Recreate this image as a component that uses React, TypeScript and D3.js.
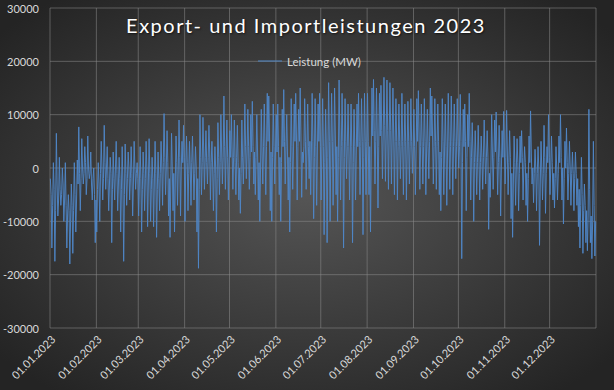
import * as d3 from "d3";

const title = "Export- und Importleistungen 2023";
const seriesName = "Leistung (MW)";
const yTicks = [30000, 20000, 10000, 0, -10000, -20000, -30000];
const monthStarts = d3.range(13).map((m) => new Date(2023, m, 1));
const tickFmt = d3.timeFormat("%d.%m.%Y");

// morning reading per day (the spikes), in 1000 MW
const jan = [-2, -15, 1, -17.5, 6.5, -9, 2, -7, 0, -10, 1, -15, -5, -18, -3, -16, 1, -12, 1.5, 7.7, -8, 5.5, -3, 4, -5, 6, -2, 3, -6, 0, -14];
const feb = [-12, 1, -10, 5, -6, 8, -4, 4, -8, 2, -14, 3, -6, 5, -8, 2, -12, 4, -17.5, 4.5, -7, 3, -6, 4, -9, 5, -4, 1];
const mar = [-9, 4, -12, 3, -8, 5, -11, 5.5, -10, 2, -11, 5, -13, 3, -8, 5, -7, 10.2, -5, 7, -9, -13, 6.5, -8, -12, 6, -7, 9, -9, 5, 8];
const apr = [-10, 6, -8, 5, -7, 6, -6, 4, -12, -18.8, 10, -5, 9.5, -4, 7, -3, 8, -6, 5, -8, 4, -12, 8.5, -5, 10, -3, 13.5, -4, 9, -6];
const may = [7, 10, -4, 9, -5, 8, -6, -8.5, 9, -3, 12, -2, 11, -4, 10, 12.5, -3, -5, 10, -6, -10, 11, -3, 12, -5, 14, 13.5, -8, -10, 12, -3];
const jun = [10, 12, -5, -10, 11, 14.7, -3, 10, -6, -12, 13, -4, 12, 14, -6, 11, 15, -5.5, 1, 13, -4, 12, -2, -5, 14, -9.5, 13, -7, 12, 14];
const jul = [-6, 13, -12.5, 11, -14, 16, -10, 14, -7, 15, -5, -10, 16.5, -6, 14, -15, 13, -2, 12, -6, 12, -14, 11, -6, 12, 14, -5, 13, -12.5, 14, -5];
const aug = [14, -5, -12, 15, 16.6, -3, 15, -7.5, 14, 15.5, -2, 17, -2.5, 16.5, -4, 16, -3, 15, -5, 13, -6, 12, -2, 14, -5, 12, -6, 12.5, -3, 13, -1];
const sep = [11, -5, 13, 14.5, -4, 12, -3, 13, -5, 11, -2, 15, 13.5, -3, 13, -4, 12, -5, -8, 13, -5, 12, -7, 14, -4, 13.5, -5, 12, -2, 13];
const oct = [0, 13.8, -17, 11, 12, -8, 10, 14, -6, 8.5, -10, 7, -5, 8, -6, 6, -4, 9, -3, 7, -11.5, -5.5, 10, -4, 9, 10.5, -5, 8, -9, 7, 10.6];
const nov = [-3, 10.8, -5, 7, -9.5, -13, 6, -7, 5.5, -8, 6, 7, -6, 4, -7, -10, 6, 10.7, -3, -6.5, 3.5, -8, 4, -14.5, 5, -6, 8, -8.5, 4, 10];
const dec = [-5, 6, -6, -7.5, 4, -6, 6, 10, -6, -10.5, 5, 7.5, -6, 5, -7, 3, -8, 3, -7, -11, -15, 2, -16, -3, -14, -15.5, 11, -14, -17, 5, -16.5];

// evening reading per day (middle of the band), in 1000 MW
const janMid = [-5, -7, -4, -8, -3, -6, -4, -5, -3, -6, -7, -9, -8, -10, -7, -8, -5, -6, -3, -1, -2, 0, -1, 1, -2, 0, -1, -3, -2, -5, -6];
const febMid = [-4, -3, -1, 0, -2, 1, 0, -2, -3, -1, -4, -2, 0, -1, -3, -2, -4, -3, -5, -1, -2, 0, -2, -1, -3, 0, -1, -2];
const marMid = [-3, -2, -4, -1, -2, 0, -3, -1, -4, -2, -3, -1, -4, -2, -1, 0, 1, 2, 0, 1, -2, -3, 0, -1, -3, 1, 0, 2, 0, 1, 2];
const aprMid = [0, 1, -1, 0, 1, 0, -1, 0, -2, -4, 2, 1, 3, 2, 1, 2, 3, 1, 0, -1, 0, -2, 2, 1, 3, 2, 4, 3, 2, 1];
const mayMid = [2, 3, 2, 1, 2, 1, 0, -1, 2, 3, 4, 3, 4, 2, 3, 4, 3, 2, 3, 1, 0, 3, 4, 3, 4, 5, 6, 3, 2, 4, 3];
const junMid = [3, 4, 2, 1, 4, 5, 4, 3, 2, 1, 4, 3, 5, 6, 4, 5, 6, 3, 4, 5, 3, 4, 5, 3, 5, 2, 4, 3, 5, 4];
const julMid = [3, 4, 1, 3, 2, 5, 3, 5, 3, 6, 4, 2, 6, 4, 5, 2, 5, 4, 4, 3, 4, 1, 4, 3, 4, 5, 4, 5, 2, 5, 4];
const augMid = [5, 4, 3, 6, 7, 5, 6, 4, 6, 7, 6, 8, 6, 7, 6, 7, 6, 6, 5, 5, 4, 5, 4, 5, 4, 5, 3, 5, 4, 5, 4];
const sepMid = [4, 3, 5, 6, 4, 5, 4, 5, 3, 4, 5, 6, 6, 4, 5, 4, 5, 3, 2, 5, 3, 4, 3, 5, 4, 5, 4, 5, 4, 5];
const octMid = [4, 5, 1, 4, 5, 2, 4, 5, 2, 3, 1, 2, 1, 2, 1, 2, 2, 3, 2, 2, -1, 0, 3, 2, 3, 3, 1, 2, 0, 2, 3];
const novMid = [2, 3, 1, 2, -1, -3, 1, 0, 1, -1, 1, 2, 0, 1, -1, -2, 1, 3, 0, -1, 0, -1, 0, -3, 0, -1, 2, -1, 1, 2];
const decMid = [0, 1, -1, -2, 0, -1, 1, 2, 0, -2, 0, 1, -1, 0, -1, -1, -2, -1, -2, -4, -7, -5, -8, -7, -8, -9, -4, -9, -10, -7, -10];

const months = [jan, feb, mar, apr, may, jun, jul, aug, sep, oct, nov, dec];
const monthsMid = [janMid, febMid, marMid, aprMid, mayMid, junMid, julMid, augMid, sepMid, octMid, novMid, decMid];

const data: { date: Date; value: number }[] = [];
months.forEach((vals, m) => {
  vals.forEach((v, i) => {
    data.push({ date: new Date(2023, m, i + 1, 6), value: v * 1000 });
    data.push({ date: new Date(2023, m, i + 1, 18), value: monthsMid[m][i] * 1000 });
  });
});

export default function App() {
  const width = 614,
    height = 390;
  const left = 50,
    right = 596,
    top = 8,
    bottom = 328;

  const x = d3
    .scaleTime()
    .domain([new Date(2023, 0, 1), new Date(2024, 0, 1)])
    .range([left, right]);
  const y = d3.scaleLinear().domain([-30000, 30000]).range([bottom, top]);

  const line = d3
    .line<{ date: Date; value: number }>()
    .x((d) => x(d.date))
    .y((d) => y(d.value));

  const font = "Lato, 'Open Sans', sans-serif";

  return (
    <svg
      width={width}
      height={height}
      style={{ position: "absolute", left: 0, top: 0 }}
      fontFamily={font}
    >
      <defs>
        <radialGradient id="bg" cx="50%" cy="50%" r="65%">
          <stop offset="0%" stopColor="#555555" />
          <stop offset="100%" stopColor="#242424" />
        </radialGradient>
      </defs>
      <rect width={width} height={height} fill="url(#bg)" />

      {/* grid */}
      {yTicks.map((t) => (
        <line
          key={t}
          x1={left}
          x2={right}
          y1={y(t)}
          y2={y(t)}
          stroke="#8a8a8a"
          strokeOpacity={0.55}
        />
      ))}
      {monthStarts.map((d) => (
        <line
          key={+d}
          x1={x(d)}
          x2={x(d)}
          y1={top}
          y2={bottom}
          stroke="#8a8a8a"
          strokeOpacity={0.55}
        />
      ))}

      <path
        d={line(data) ?? ""}
        fill="none"
        stroke="#4f86c6"
        strokeWidth={1}
        strokeOpacity={0.95}
      />

      {/* y labels */}
      {yTicks.map((t) => (
        <text
          key={t}
          x={39}
          y={y(t)}
          textAnchor="end"
          dominantBaseline="central"
          fontSize={11}
          fill="#d9d9d9"
        >
          {t}
        </text>
      ))}

      {/* x labels */}
      {monthStarts.slice(0, 12).map((d) => (
        <text
          key={+d}
          transform={`translate(${x(d) + 3} ${bottom + 9}) rotate(-45)`}
          textAnchor="end"
          dominantBaseline="central"
          fontSize={11}
          fill="#d9d9d9"
        >
          {tickFmt(d)}
        </text>
      ))}

      <text
        x={306}
        y={33}
        textAnchor="middle"
        fontSize={20}
        letterSpacing={1.5}
        fill="#ffffff"
        style={{ textShadow: "1px 1px 2px rgba(0,0,0,0.6)" }}
      >
        {title}
      </text>

      {/* legend */}
      <line x1={258} x2={282} y1={61} y2={61} stroke="#4f86c6" strokeWidth={1} />
      <text x={287} y={61} dominantBaseline="central" fontSize={11.5} fill="#d9d9d9">
        {seriesName}
      </text>
    </svg>
  );
}
